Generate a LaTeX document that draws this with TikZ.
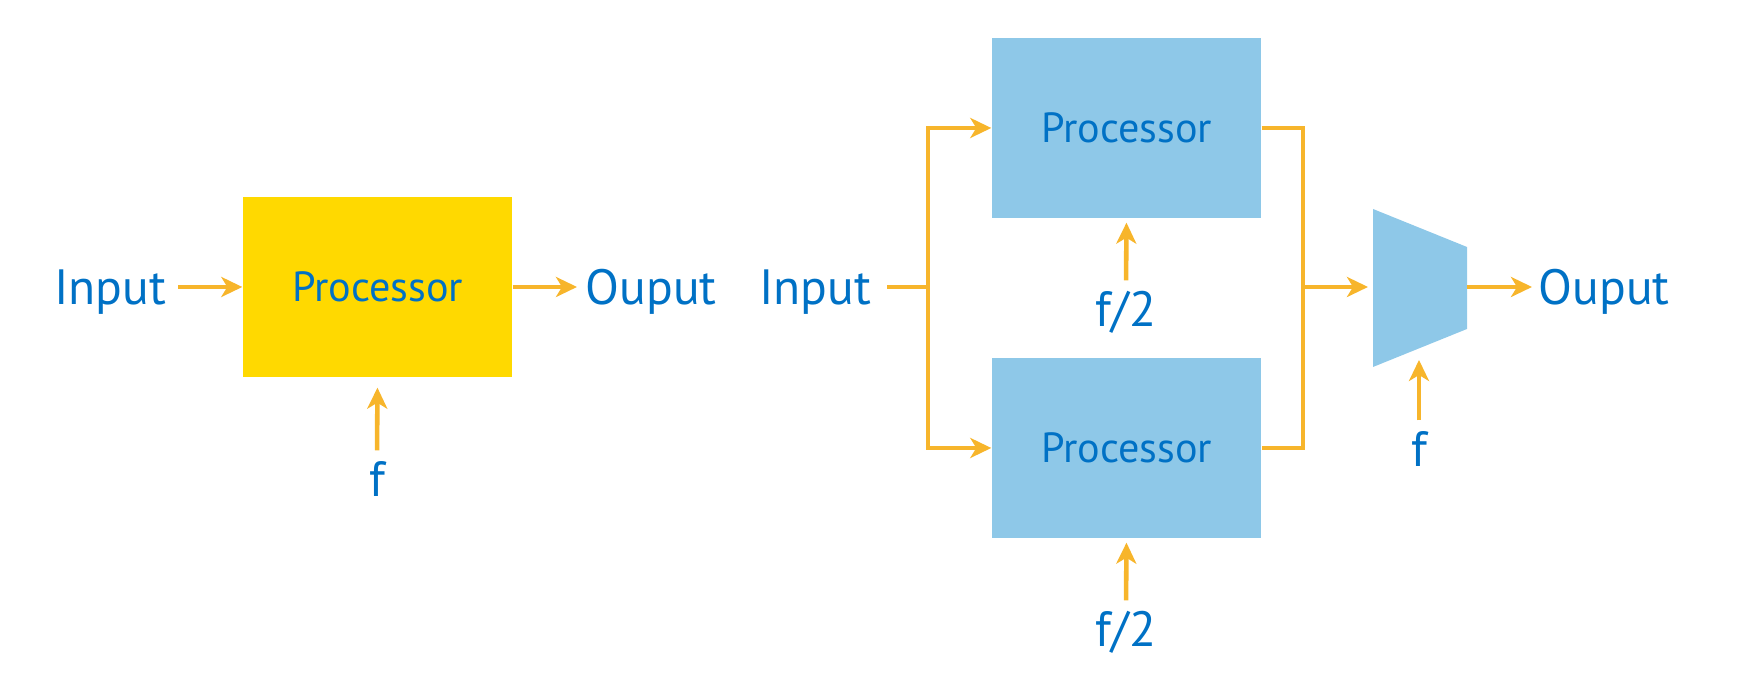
\documentclass[tikz,border=0pt]{standalone}
\usepackage{fontspec}
\setmainfont{PT Sans}
\usetikzlibrary{arrows.meta}

\definecolor{intelblue}{HTML}{0071C5}
\definecolor{wireorange}{HTML}{F7B52B}
\definecolor{procyellow}{HTML}{FFD900}
\definecolor{procblue}{HTML}{8EC8E8}

\begin{document}
\begin{tikzpicture}[
		wire/.style={wireorange, line width=1.3pt},
		sig/.style={wire, -{Stealth[length=0.21cm, width=0.2cm, inset=0.06cm]}},
		procbox/.style={minimum width=2.69cm, minimum height=1.80cm, inner sep=0pt,
			text=intelblue, font=\fontsize{12}{14}\selectfont},
		lbl/.style={inner sep=0pt, text=intelblue, text height=0.36cm, text depth=0pt,
			font=\fontsize{14.1}{17}\selectfont},
		freq/.style={lbl, anchor=base}
	]
		\useasboundingbox (0,0) rectangle (17.63,6.91);
		
		% Single processor at frequency f
		\node[procbox, fill=procyellow] (proc) at (3.775,4.04) {Processor};
		\node[lbl, anchor=east] (in) at (1.67,4.04) {Input};
		\node[lbl, anchor=west] (out) at (5.85,4.04) {Ouput};
		\node[freq] (f) at (3.77,1.94) {f};
		
		\draw[sig, shorten <=0.11cm] (in) -- (proc);
		\draw[sig, shorten >=0.08cm] (proc) -- (out);
		\draw[sig, shorten <=0.1cm, shorten >=0.1cm] (f.north) -- (proc.south);
		
		% Two processors at f/2 in parallel
		\node[procbox, fill=procblue] (procA) at (11.265,5.63) {Processor};
		\node[procbox, fill=procblue] (procB) at (11.265,2.43) {Processor};
		\node[lbl, anchor=east] (inB) at (8.72,4.04) {Input};
		\node[freq] (fA) at (11.26,3.64) {f/2};
		\node[freq] (fB) at (11.26,0.44) {f/2};
		\coordinate (split) at (9.28,4.04);
		
		\draw[wire, shorten <=0.15cm] (inB) -- (split);
		\draw[sig] (split) |- (procA);
		\draw[sig] (split) |- (procB);
		\draw[sig, shorten <=0.1cm, shorten >=0.04cm] (fA.north) -- (procA.south);
		\draw[sig, shorten <=0.1cm, shorten >=0.04cm] (fB.north) -- (procB.south);
		
		% Multiplexer
		\coordinate (muxin) at (13.73,4.04);
		\coordinate (muxout) at (14.67,4.04);
		\coordinate (muxbot) at (14.19,3.43);
		\fill[procblue] (13.73,4.82) -- (14.67,4.44) -- (14.67,3.62) -- (13.73,3.24) -- cycle;
		\coordinate (join) at (13.03,4.04);
		\node[lbl, anchor=west] (outB) at (15.38,4.04) {Ouput};
		\node[freq] (fM) at (14.19,2.24) {f};
		
		\draw[wire] (procA) -| (join) |- (procB);
		\draw[sig, shorten >=0.05cm] (join) -- (muxin);
		\draw[sig, shorten >=0.06cm] (muxout) -- (outB);
		\draw[sig, shorten <=0.1cm, shorten >=0.12cm] (fM.north) -- (muxbot);
		
\end{tikzpicture}
\end{document}
